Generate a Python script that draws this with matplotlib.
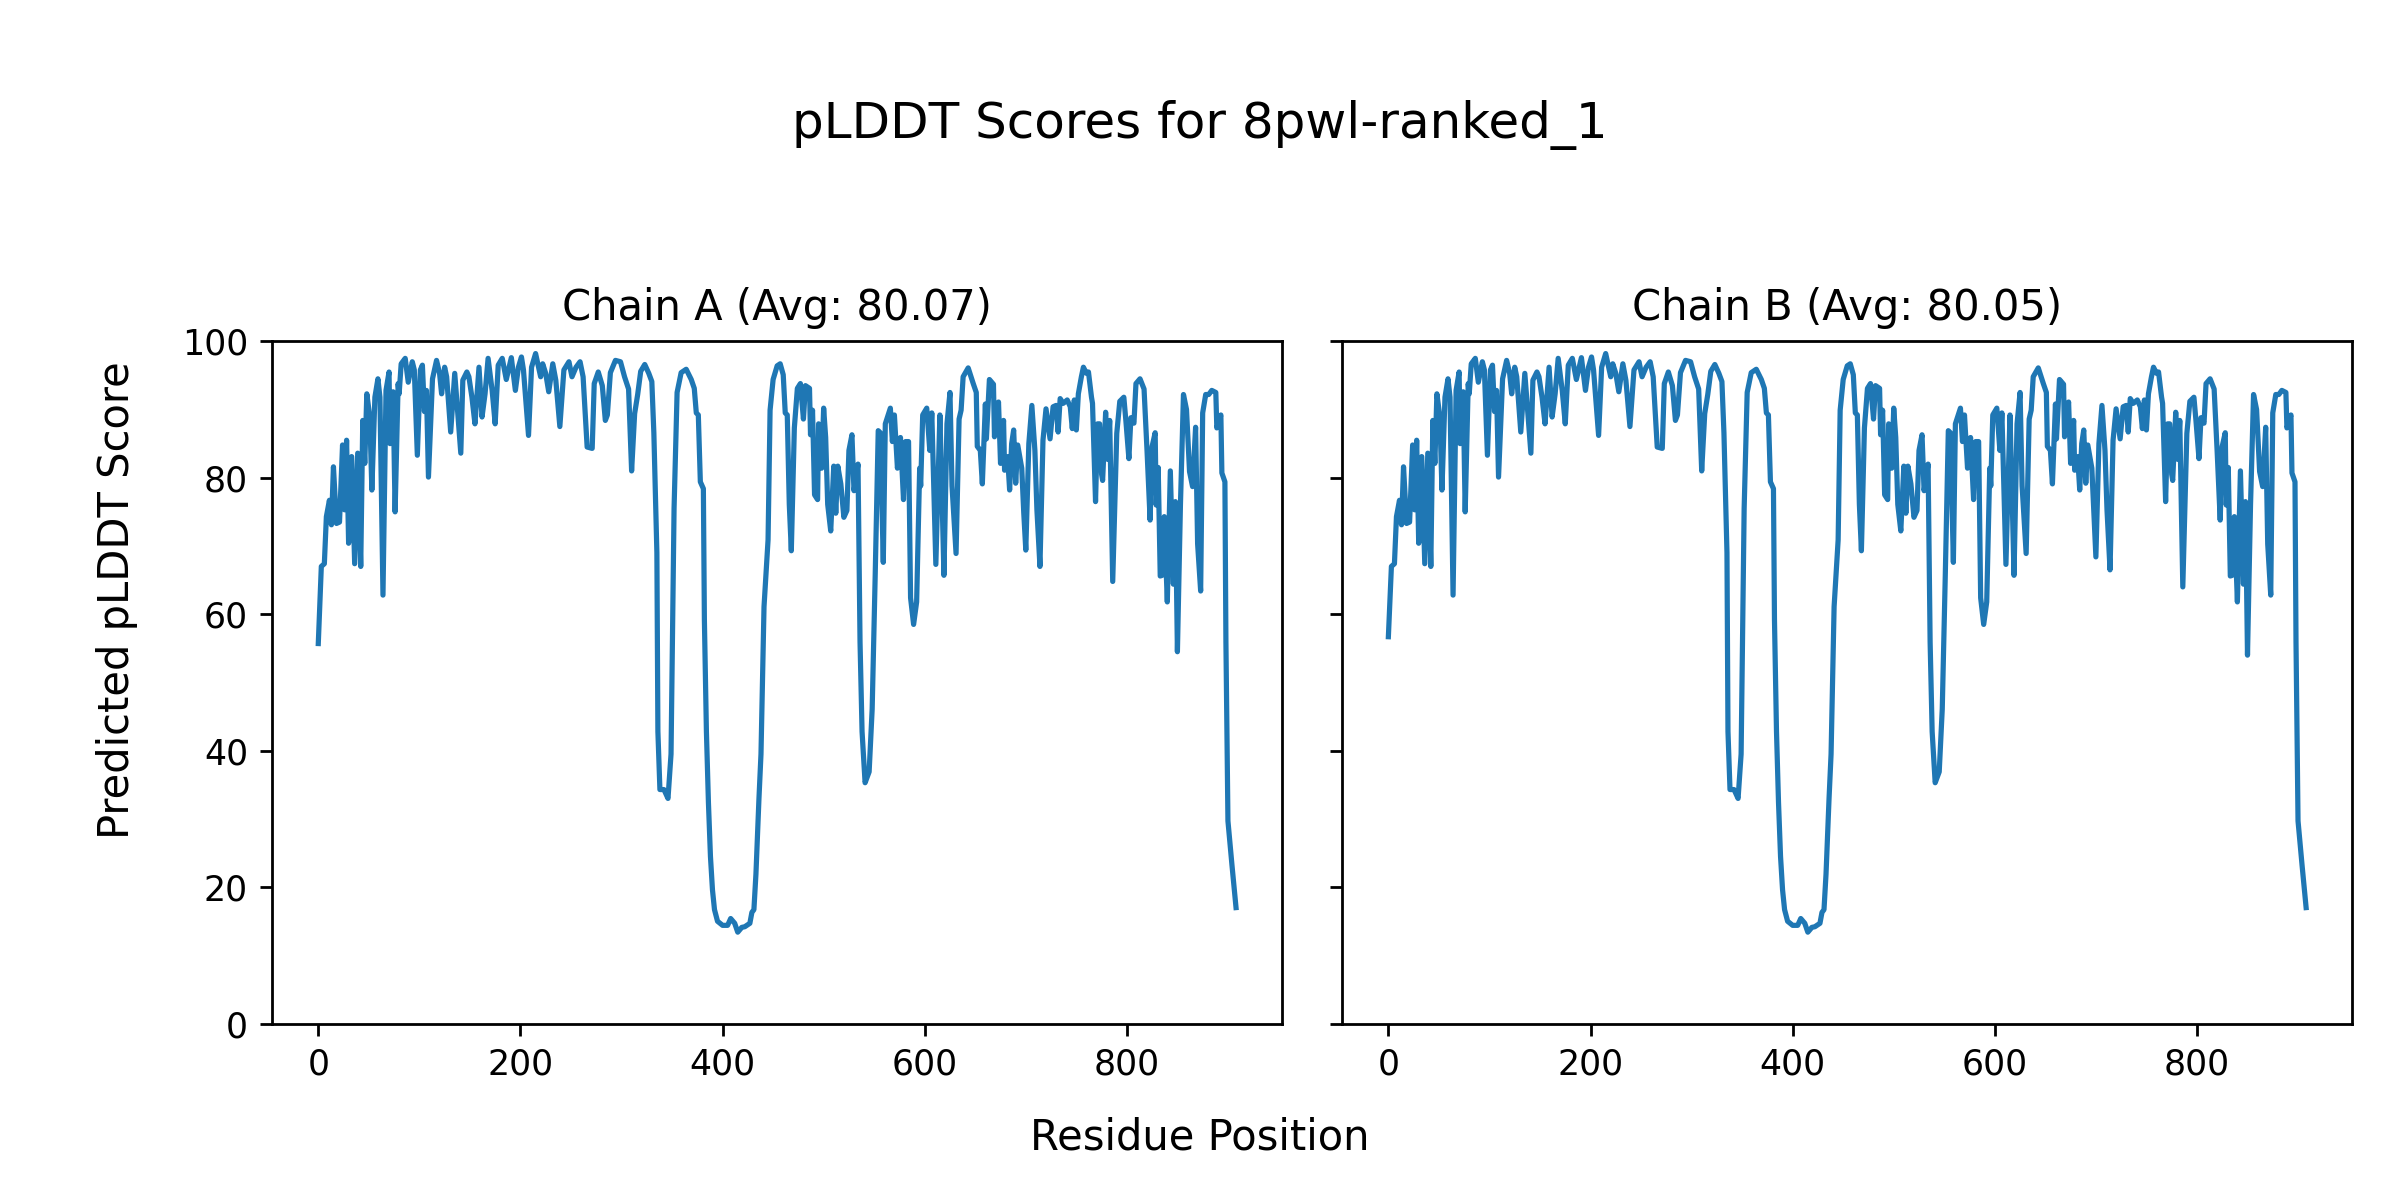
import matplotlib
matplotlib.use("Agg")
import matplotlib.pyplot as plt

# residue index / pLDDT pairs (chain A)
residues = [
    0, 3, 6, 8, 11, 13, 15, 18, 21, 24, 26, 28, 30, 33, 36, 39, 42, 44, 46, 48,
    51, 53, 56, 59, 61, 64, 67, 70, 71, 74, 76, 79, 80, 82, 86, 89, 93, 95, 98, 101,
    103, 105, 107, 109, 113, 117, 120, 122, 125, 127, 131, 135, 137, 141, 143, 147, 149, 152, 155, 159,
    162, 165, 168, 172, 175, 178, 182, 186, 191, 195, 198, 201, 203, 208, 211, 215, 220, 222, 225, 228,
    232, 235, 239, 243, 248, 251, 255, 259, 262, 266, 271, 273, 277, 281, 284, 286, 289, 294, 299, 303,
    307, 310, 313, 316, 319, 323, 327, 330, 332, 335, 336, 338, 342, 346, 349, 352, 355, 359, 364, 369,
    372, 374, 376, 378, 381, 382, 384, 386, 388, 390, 392, 395, 400, 405, 408, 412, 415, 419, 422, 427,
    429, 431, 433, 436, 438, 441, 445, 447, 450, 454, 457, 460, 462, 464, 466, 468, 471, 474, 477, 480,
    482, 486, 487, 489, 491, 494, 495, 498, 500, 502, 504, 507, 510, 512, 514, 517, 520, 523, 525, 528,
    530, 534, 536, 538, 541, 545, 548, 551, 554, 556, 559, 561, 566, 568, 570, 573, 576, 579, 581, 584,
    586, 589, 592, 595, 596, 598, 602, 605, 607, 611, 615, 617, 619, 622, 625, 627, 631, 634, 636, 638,
    643, 648, 651, 652, 655, 657, 660, 661, 664, 668, 669, 673, 675, 678, 679, 682, 684, 686, 688, 690,
    692, 696, 698, 700, 703, 706, 709, 711, 714, 717, 720, 724, 727, 730, 732, 734, 737, 741, 744, 746,
    748, 750, 752, 755, 757, 760, 762, 765, 766, 769, 771, 773, 775, 776, 779, 781, 783, 786, 790, 793,
    797, 799, 802, 804, 807, 809, 813, 817, 820, 823, 825, 828, 829, 831, 833, 835, 837, 840, 843, 846,
    848, 850, 853, 856, 859, 862, 865, 868, 870, 873, 875, 878, 881, 884, 888, 889, 893, 894, 897, 898,
    900, 904, 908,
]

chain_a_score = [
    55.7, 67.0, 67.4, 74.3, 76.7, 73.1, 81.6, 73.3, 73.5, 84.8, 75.3, 85.5, 70.4, 83.1, 67.4, 83.6, 67.0, 88.4, 82.1, 92.3,
    88.9, 78.2, 91.8, 94.5, 91.8, 62.8, 92.8, 95.5, 85.0, 92.6, 75.0, 93.8, 92.3, 96.7, 97.5, 94.0, 97.0, 95.8, 83.3, 95.8,
    96.5, 89.7, 92.8, 80.1, 94.5, 97.2, 95.3, 92.3, 96.2, 94.8, 86.7, 95.3, 91.4, 83.6, 94.3, 95.5, 94.8, 91.8, 87.9, 96.2,
    88.9, 92.3, 97.5, 92.8, 87.9, 96.5, 97.5, 94.4, 97.6, 92.8, 96.2, 97.7, 95.8, 86.2, 96.2, 98.2, 94.8, 96.7, 95.3, 92.6,
    96.7, 94.3, 87.5, 95.8, 97.0, 94.8, 96.2, 97.0, 94.8, 84.5, 84.3, 93.8, 95.5, 93.5, 88.4, 89.2, 95.4, 97.2, 97.0, 94.8,
    93.0, 81.0, 89.4, 92.2, 95.6, 96.6, 95.3, 94.1, 86.6, 69.0, 42.8, 34.3, 34.3, 33.0, 39.5, 75.5, 92.5, 95.4, 95.9, 94.4,
    93.1, 89.5, 89.2, 79.4, 78.4, 59.2, 42.8, 32.4, 24.5, 19.6, 16.7, 15.0, 14.4, 14.4, 15.4, 14.7, 13.4, 14.1, 14.2, 14.7,
    16.3, 16.7, 21.9, 33.0, 39.5, 61.1, 70.9, 89.9, 94.4, 96.4, 96.7, 95.1, 89.5, 89.2, 76.1, 69.3, 87.3, 93.1, 93.8, 88.6,
    93.5, 93.1, 86.3, 89.9, 77.5, 76.8, 87.9, 81.4, 90.2, 85.9, 76.1, 72.2, 81.7, 74.8, 81.7, 79.1, 74.2, 75.2, 84.0, 86.3,
    78.1, 82.0, 55.9, 42.8, 35.3, 36.9, 46.1, 65.7, 86.9, 86.6, 67.6, 87.9, 90.2, 85.3, 89.2, 81.4, 85.9, 76.8, 85.3, 85.3,
    62.4, 58.5, 61.8, 81.4, 78.8, 89.2, 90.2, 84.0, 89.5, 67.3, 89.2, 78.1, 65.7, 87.9, 92.5, 78.8, 68.9, 88.6, 89.9, 94.8,
    96.1, 93.8, 92.5, 84.6, 84.0, 79.1, 90.8, 85.7, 94.4, 93.7, 86.0, 91.1, 82.1, 88.4, 81.1, 83.1, 78.2, 85.0, 87.0, 79.2,
    84.8, 81.4, 74.8, 69.4, 85.0, 90.6, 84.0, 75.3, 67.0, 85.5, 90.1, 85.7, 90.4, 90.6, 86.7, 91.6, 90.9, 91.4, 90.4, 87.2,
    91.4, 87.0, 92.3, 94.8, 96.2, 95.3, 95.5, 91.8, 90.9, 76.5, 87.9, 87.9, 80.5, 79.6, 89.6, 82.7, 88.4, 64.8, 86.5, 91.2,
    91.8, 88.4, 82.8, 88.8, 88.0, 93.8, 94.5, 93.0, 83.8, 73.8, 84.6, 86.6, 76.0, 81.5, 65.6, 65.7, 74.3, 61.8, 81.0, 64.4,
    76.5, 54.5, 76.0, 92.2, 90.0, 80.9, 78.7, 87.4, 70.3, 63.4, 89.5, 92.2, 92.2, 92.8, 92.5, 87.3, 89.2, 80.7, 79.4, 55.9,
    29.7, 23.2, 17.0,
]

# chain B is almost the same trace; only these residues read differently
chain_b_changes = {0: 56.7, 700: 68.4, 714: 66.5, 786: 64.0, 873: 62.8, 850: 54.0}

chain_b_score = list(chain_a_score)
for res, val in chain_b_changes.items():
    chain_b_score[residues.index(res)] = val

chains = ["A", "B"]
averages = [80.07, 80.05]
scores = [chain_a_score, chain_b_score]

fig, axes = plt.subplots(1, 2, figsize=(9.6, 4.8), dpi=250, sharey=True)
fig.subplots_adjust(left=0.1135, right=0.980, bottom=0.147, top=0.7156, wspace=0.06)

for ax, chain, avg, sc in zip(axes, chains, averages, scores):
    ax.plot(residues, sc, color="#1f77b4", linewidth=1.5)
    ax.set_title(f"Chain {chain} (Avg: {avg:.2f})")
    ax.set_ylim(0, 100)

fig.suptitle("pLDDT Scores for 8pwl-ranked_1", fontsize="x-large", y=0.917)
fig.supxlabel("Residue Position", y=0.035)
fig.supylabel("Predicted pLDDT Score", x=0.04)

plt.savefig("out.png")
